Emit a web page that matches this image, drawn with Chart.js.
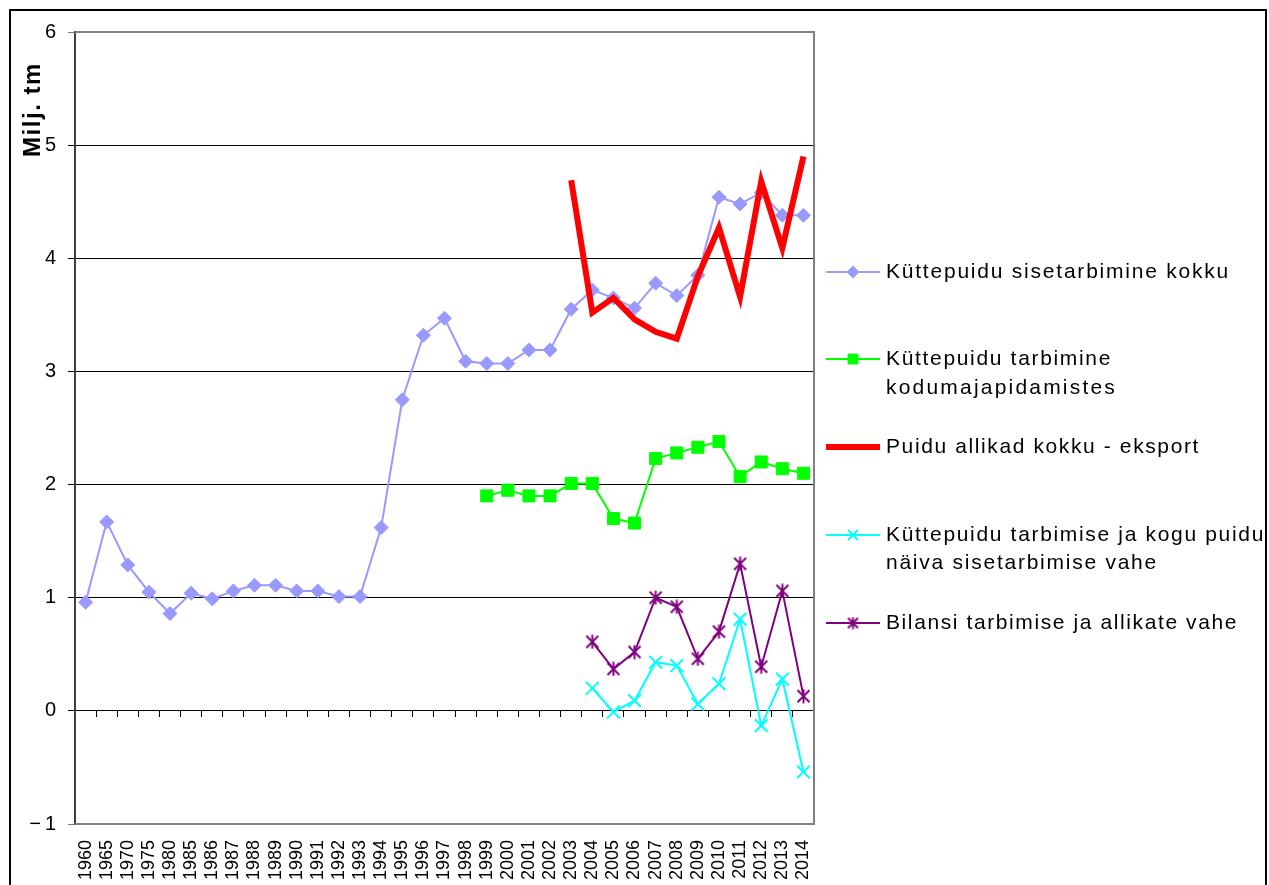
<!DOCTYPE html>
<html><head><meta charset="utf-8">
<script src="https://cdn.jsdelivr.net/npm/chart.js@4/dist/chart.umd.min.js"></script>
<style>html,body{margin:0;padding:0;background:#fff}#wrap{width:1269px;height:885px;position:relative}canvas{display:block}</style>
</head><body><div id="wrap"><canvas id="c" width="1269" height="885"></canvas></div>
<script>
// ---- data ----
const categories = ['1960','1965','1970','1975','1980','1985','1986','1987','1988','1989','1990','1991','1992','1993','1994','1995','1996','1997','1998','1999','2000','2001','2002','2003','2004','2005','2006','2007','2008','2009','2010','2011','2012','2013','2014'];
const yTickValues = [-1,0,1,2,3,4,5,6];
const seriesNames = [
  'Küttepuidu sisetarbimine kokku',
  'Küttepuidu tarbimine kodumajapidamistes',
  'Puidu allikad kokku - eksport',
  'Küttepuidu tarbimise ja kogu puidu näiva sisetarbimise vahe',
  'Bilansi tarbimise ja allikate vahe'
];
const sisetarbimineKokku = [0.96,1.67,1.29,1.05,0.86,1.04,0.99,1.06,1.11,1.11,1.06,1.06,1.01,1.01,1.62,2.75,3.32,3.47,3.09,3.07,3.07,3.19,3.19,3.55,3.72,3.65,3.56,3.78,3.67,3.85,4.54,4.48,4.58,4.38,4.38];
const kodumajapidamistes = [null,null,null,null,null,null,null,null,null,null,null,null,null,null,null,null,null,null,null,1.90,1.95,1.90,1.90,2.01,2.01,1.70,1.66,2.23,2.28,2.33,2.38,2.07,2.20,2.14,2.10];
const allikadMiinusEksport = [null,null,null,null,null,null,null,null,null,null,null,null,null,null,null,null,null,null,null,null,null,null,null,4.69,3.52,3.65,3.46,3.35,3.29,3.84,4.27,3.66,4.68,4.09,4.90];
const naivaVahe = [null,null,null,null,null,null,null,null,null,null,null,null,null,null,null,null,null,null,null,null,null,null,null,null,0.20,-0.01,0.09,0.43,0.40,0.06,0.24,0.81,-0.13,0.28,-0.54];
const bilansiVahe = [null,null,null,null,null,null,null,null,null,null,null,null,null,null,null,null,null,null,null,null,null,null,null,null,0.61,0.37,0.52,1.00,0.92,0.46,0.70,1.30,0.39,1.06,0.13];

const FONT = '"Liberation Sans", Arial, sans-serif';

// Excel-style star marker: X plus vertical bar
function makeStar(size, color, lw) {
  const cv = document.createElement('canvas');
  cv.width = size; cv.height = size;
  const g = cv.getContext('2d');
  g.strokeStyle = color; g.lineWidth = lw; g.lineCap = 'butt';
  const p = 1.5, q = size - 1.5, m = size / 2;
  g.beginPath();
  g.moveTo(p, p); g.lineTo(q, q);
  g.moveTo(q, p); g.lineTo(p, q);
  g.moveTo(m, 0.5); g.lineTo(m, size - 0.5);
  g.stroke();
  return cv;
}
const starMarker = makeStar(15, '#800080', 2);
const starLegend = makeStar(13, '#800080', 2);

const legendLayout = [
  {lines:['Küttepuidu sisetarbimine kokku'], ys:[272], widths:[344], mr:6},
  {lines:['Küttepuidu tarbimine','kodumajapidamistes'], ys:[359,388], widths:[226,231], mr:7},
  {lines:['Puidu allikad kokku - eksport'], ys:[447], widths:[314], mr:0},
  {lines:['Küttepuidu tarbimise ja kogu puidu','näiva sisetarbimise vahe'], ys:[535,563], widths:[379,272], mr:7},
  {lines:['Bilansi tarbimise ja allikate vahe'], ys:[623], widths:[352], mr:-1}
];

function fitText(ctx, txt, x, y, w) {
  ctx.letterSpacing = '0px';
  const m = ctx.measureText(txt).width;
  const n = txt.length;
  const ls = n > 1 ? (w - m) / n : 0;
  ctx.letterSpacing = ls.toFixed(2) + 'px';
  ctx.fillText(txt, x, y);
  ctx.letterSpacing = '0px';
}

const decor = {
  id: 'decor',
  beforeDatasetsDraw(chart) {
    const {ctx, chartArea: a} = chart;
    ctx.save();
    ctx.strokeStyle = '#808080';
    ctx.lineWidth = 2;
    ctx.beginPath();
    ctx.moveTo(a.left, a.top); ctx.lineTo(a.right, a.top);
    ctx.lineTo(a.right, a.bottom); ctx.lineTo(a.left, a.bottom);
    ctx.stroke();
    ctx.restore();
  },
  afterDraw(chart) {
    const {ctx} = chart;
    ctx.save();
    // outer frame
    ctx.strokeStyle = '#000';
    ctx.lineWidth = 2;
    ctx.strokeRect(10, 10, 1256, 1000);
    // y title
    ctx.save();
    ctx.translate(33, 110);
    ctx.rotate(-Math.PI / 2);
    ctx.font = 'bold 24px ' + FONT;
    ctx.fillStyle = '#000';
    ctx.textAlign = 'left';
    ctx.textBaseline = 'middle';
    fitText(ctx, 'Milj. tm', -47, 0, 95);
    ctx.restore();
    // legend
    ctx.font = '21px ' + FONT;
    ctx.textBaseline = 'middle';
    ctx.textAlign = 'left';
    legendLayout.forEach((it, i) => {
      const ds = chart.data.datasets[i];
      const y = it.ys[0];
      ctx.strokeStyle = ds.borderColor;
      ctx.lineWidth = ds.borderWidth;
      ctx.beginPath(); ctx.moveTo(826, y); ctx.lineTo(880, y); ctx.stroke();
      if (it.mr > 0) {
        ctx.fillStyle = ds.pointBackgroundColor;
        ctx.strokeStyle = ds.pointBorderColor;
        ctx.lineWidth = ds.pointBorderWidth;
        Chart.helpers.drawPoint(ctx, {pointStyle: ds.pointStyle, radius: it.mr, borderWidth: ds.pointBorderWidth, rotation: 0}, 853, y);
      } else if (it.mr < 0) {
        ctx.drawImage(starLegend, 853 - starLegend.width / 2, y - starLegend.height / 2);
      }
      ctx.fillStyle = '#000';
      it.lines.forEach((t, j) => fitText(ctx, t, 886, it.ys[j], it.widths[j]));
    });
    ctx.restore();
  }
};

new Chart(document.getElementById('c'), {
  type: 'line',
  data: {
    labels: categories,
    datasets: [
      {label: seriesNames[0], data: sisetarbimineKokku, borderColor: '#9999FF', backgroundColor: '#9999FF', borderWidth: 2,
       pointStyle: 'rectRot', pointRadius: 7, pointBackgroundColor: '#9999FF', pointBorderColor: '#9999FF', pointBorderWidth: 1, order: 5},
      {label: seriesNames[1], data: kodumajapidamistes, borderColor: '#00FF00', backgroundColor: '#00FF00', borderWidth: 2,
       pointStyle: 'rect', pointRadius: 8.5, pointBackgroundColor: '#00FF00', pointBorderColor: '#00FF00', pointBorderWidth: 1, order: 4},
      {label: seriesNames[2], data: allikadMiinusEksport, borderColor: '#FF0000', backgroundColor: '#FF0000', borderWidth: 6,
       pointRadius: 0, pointStyle: 'circle', pointBackgroundColor: '#FF0000', pointBorderColor: '#FF0000', pointBorderWidth: 0, borderJoinStyle: 'miter', order: 1},
      {label: seriesNames[3], data: naivaVahe, borderColor: '#00FFFF', backgroundColor: '#00FFFF', borderWidth: 2,
       pointStyle: 'crossRot', pointRadius: 9, pointBackgroundColor: '#00FFFF', pointBorderColor: '#00FFFF', pointBorderWidth: 2, order: 3},
      {label: seriesNames[4], data: bilansiVahe, borderColor: '#800080', backgroundColor: '#800080', borderWidth: 2,
       pointStyle: starMarker, pointRadius: 8, pointBackgroundColor: '#800080', pointBorderColor: '#800080', pointBorderWidth: 2, order: 2}
    ]
  },
  options: {
    responsive: false,
    animation: false,
    devicePixelRatio: 1,
    layout: {padding: {top: 32, right: 455, left: 0, bottom: 0}},
    plugins: {legend: {display: false}, tooltip: {enabled: false}, title: {display: false}},
    elements: {line: {tension: 0}},
    scales: {
      x: {
        type: 'category', position: 'bottom', offset: true,
        grid: {display: false, drawTicks: false},
        border: {display: false},
        ticks: {autoSkip: false, minRotation: 90, maxRotation: 90, padding: 16, color: '#000', font: {family: FONT, size: 18}},
        afterFit(s) { s.height = 61; }
      },
      x2: {
        type: 'category', labels: categories, position: {y: 0}, offset: true,
        grid: {drawOnChartArea: false, offset: true, tickLength: 6, color: '#000', lineWidth: 1},
        border: {display: true, color: '#000', width: 1},
        ticks: {display: false}
      },
      y: {
        min: -1, max: 6,
        afterBuildTicks(s) { s.ticks = yTickValues.map(v => ({value: v})); },
        grid: {color: (c) => (c.tick && (c.tick.value === 6 || c.tick.value === -1)) ? '#808080' : '#000', lineWidth: 1, tickLength: 7, drawTicks: true},
        border: {display: true, color: '#404040', width: 2},
        ticks: {padding: 12, color: '#000', font: {family: FONT, size: 20},
          callback: (v) => v < 0 ? '\u2212\u2009' + Math.abs(v) : String(v)},
        afterFit(s) { s.width = 75; }
      }
    }
  },
  plugins: [decor]
});
</script>
</body></html>
